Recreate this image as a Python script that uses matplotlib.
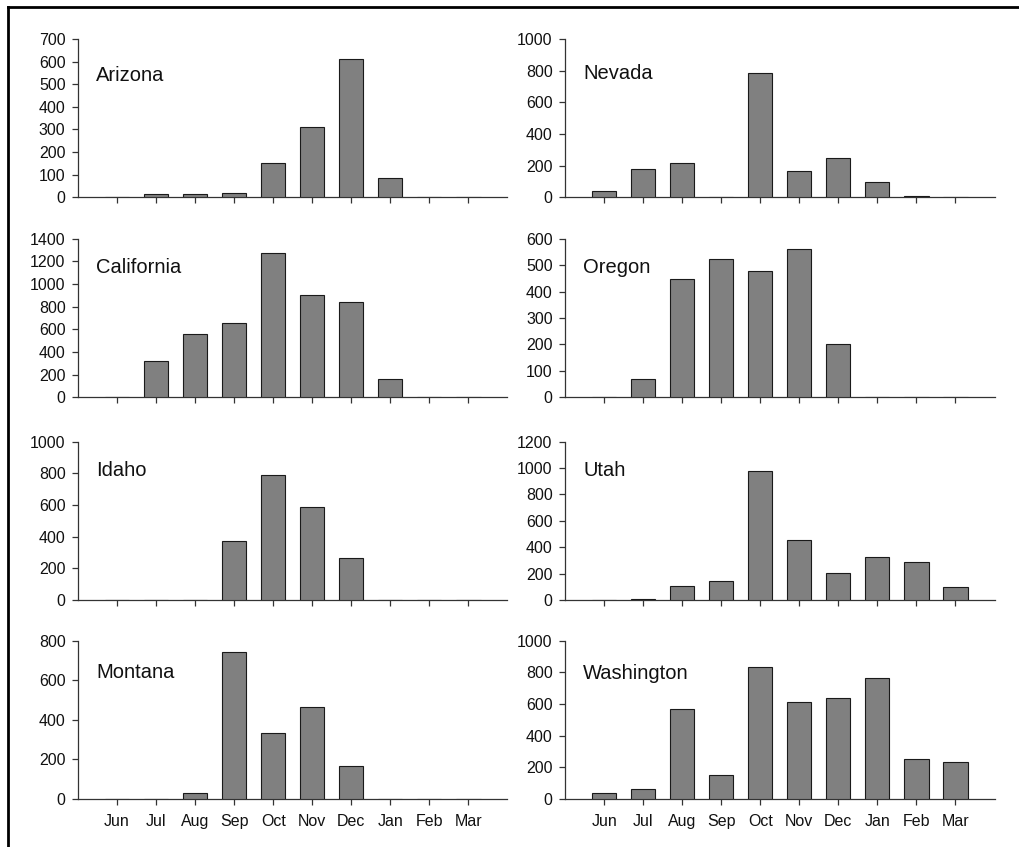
import matplotlib
matplotlib.use('Agg')
import matplotlib.pyplot as plt
from matplotlib.lines import Line2D

plt.rcParams['font.family'] = ['Liberation Sans', 'DejaVu Sans']

months = ['Jun', 'Jul', 'Aug', 'Sep', 'Oct', 'Nov', 'Dec', 'Jan', 'Feb', 'Mar']

arizona = [0, 15, 15, 19, 152, 309, 610, 86, 0, 0]
nevada = [40, 177, 219, 0, 785, 165, 248, 98, 8, 0]
california = [0, 317, 561, 653, 1275, 900, 845, 157, 0, 0]
oregon = [0, 68, 448, 522, 478, 561, 200, 0, 0, 0]
idaho = [0, 0, 0, 373, 787, 587, 265, 0, 0, 0]
utah = [0, 8, 109, 147, 979, 455, 208, 328, 290, 97]
montana = [0, 0, 29, 741, 335, 467, 165, 0, 0, 0]
washington = [37, 62, 565, 153, 834, 611, 638, 766, 253, 236]

states = ['Arizona', 'Nevada', 'California', 'Oregon',
          'Idaho', 'Utah', 'Montana', 'Washington']
series = [arizona, nevada, california, oregon, idaho, utah, montana, washington]
ymax = [700, 1000, 1400, 600, 1000, 1200, 800, 1000]
ystep = [100, 200, 200, 100, 200, 200, 200, 200]
label_y = [0.77, 0.78, 0.82, 0.82, 0.82, 0.82, 0.80, 0.79]

fig = plt.figure(figsize=(10.2, 8.47), dpi=100)

lefts = [0.0765, 0.554]
width = 0.421
bottoms = [0.767, 0.531, 0.2916, 0.0567]
height = 0.187

for i, (name, vals) in enumerate(zip(states, series)):
    row, col = divmod(i, 2)
    ax = fig.add_axes([lefts[col], bottoms[row], width, height])
    x = list(range(len(months)))
    ax.bar(x, vals, width=0.62, color='#808080', edgecolor='#1a1a1a',
           linewidth=0.8, zorder=3)
    ax.set_xlim(-1, 10)
    ax.set_ylim(0, ymax[i])
    ax.set_yticks(range(0, ymax[i] + 1, ystep[i]))
    ax.set_xticks(x)
    if row == 3:
        ax.set_xticklabels(months)
    else:
        ax.set_xticklabels([])
    for s in ['top', 'right']:
        ax.spines[s].set_visible(False)
    for s in ['left', 'bottom']:
        ax.spines[s].set_color('#333333')
        ax.spines[s].set_linewidth(0.9)
    ax.tick_params(axis='both', direction='out', length=4, width=0.9,
                   color='#333333', labelsize=11.5, labelcolor='#111111')
    ax.tick_params(axis='x', pad=7)
    ax.tick_params(axis='y', pad=5)
    ax.text(0.042, label_y[i], name, transform=ax.transAxes,
            fontsize=14.5, va='center', ha='left', color='#111111')

# frame lines around the figure (top and left edges visible)
fig.add_artist(Line2D([8 / 1020, 1], [1 - 7.5 / 847, 1 - 7.5 / 847],
                      transform=fig.transFigure, color='black', linewidth=2))
fig.add_artist(Line2D([8 / 1020, 8 / 1020], [0, 1 - 7.5 / 847],
                      transform=fig.transFigure, color='black', linewidth=2))

fig.savefig('out.png', dpi=100)
